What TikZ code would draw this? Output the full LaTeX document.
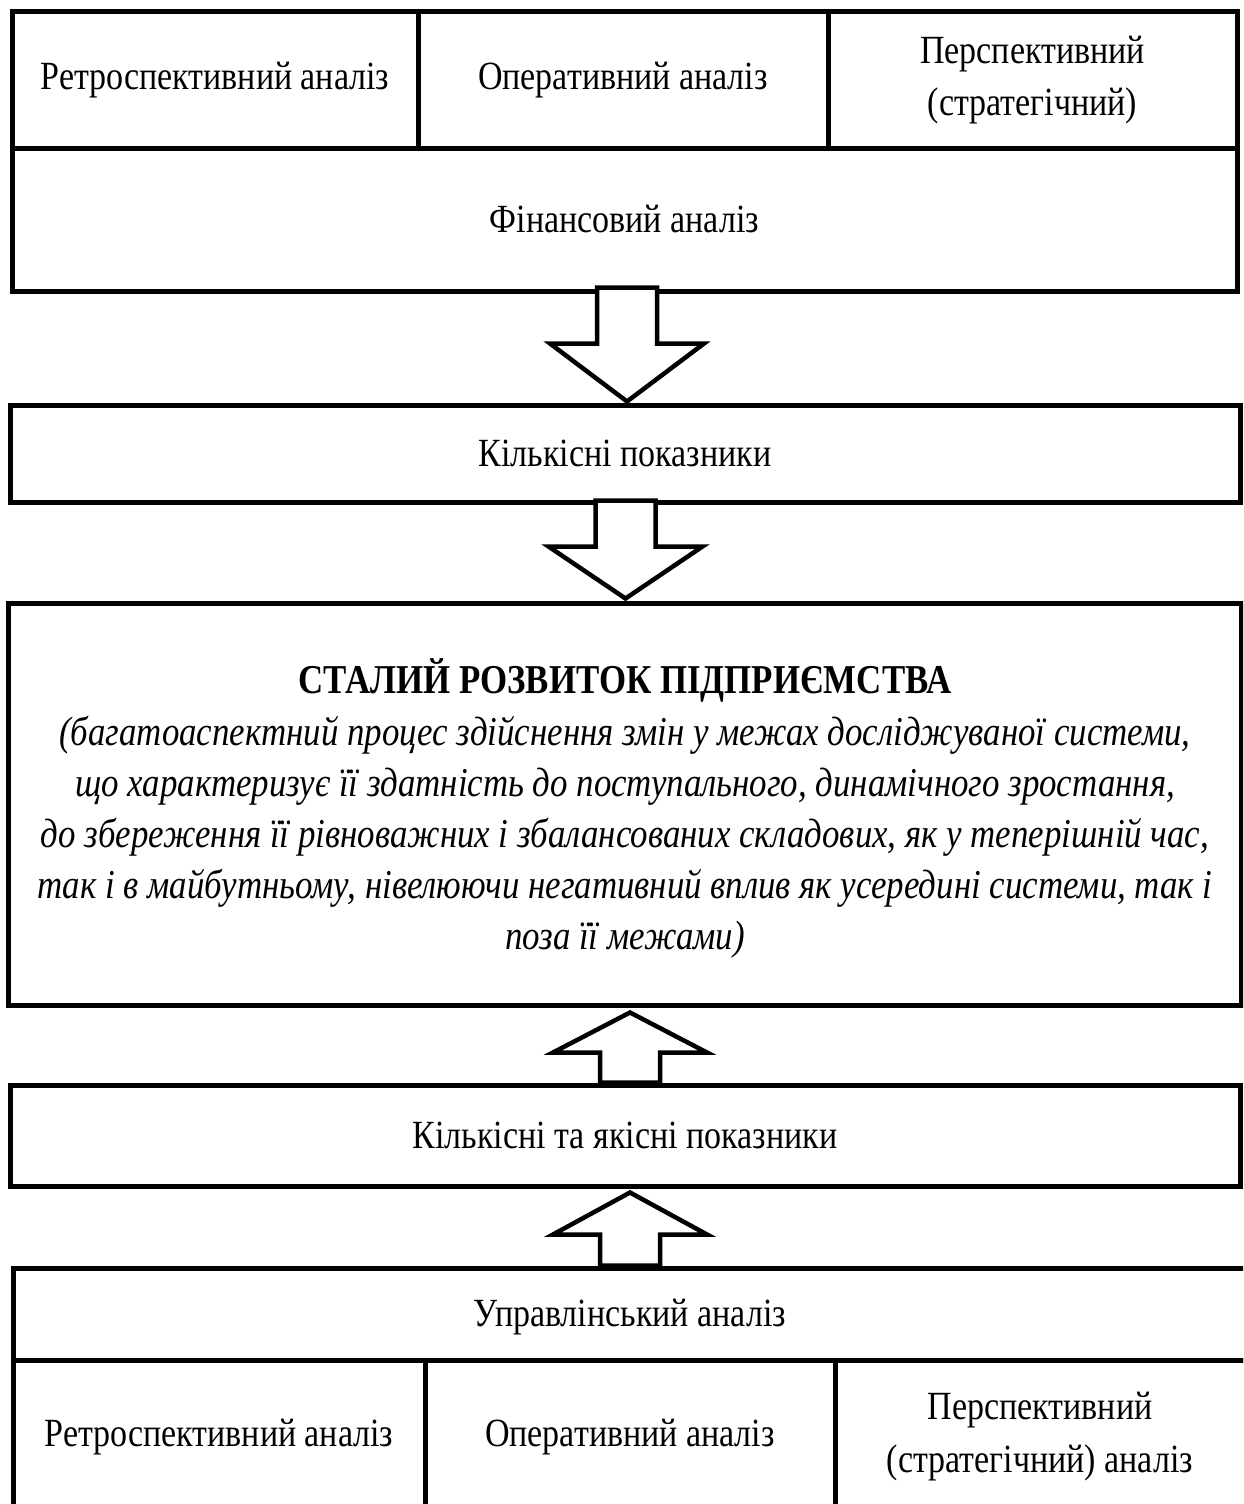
\documentclass[tikz,border=0pt]{standalone}
\usepackage{fontspec}
\setmainfont{Liberation Serif}[FakeStretch=0.85]
\newfontfamily\itfont{Liberation Serif Italic}[FakeStretch=0.85]
\newfontfamily\bffont{Liberation Serif Bold}[FakeStretch=0.85]
\usetikzlibrary{calc}
\tikzset{
  box/.style={draw, line width=5pt, inner sep=0pt, font=\fontsize{40}{52}\selectfont, align=center},
  lbl/.style={inner sep=0pt, font=\fontsize{40}{53}\selectfont, align=center},
  arrowline/.style={draw, line width=4.5pt, fill=white, line join=miter}
}
\newcommand\barrow[3]{%
  \path[arrowline] let \p1=(#1), \p2=(#2) in
    (\x2-30pt,\y1) -- (\x2+30pt,\y1) -- (\x2+30pt,\y2+#3) -- (\x2+77pt,\y2+#3)
    -- (\x2,\y2) -- (\x2-77pt,\y2+#3) -- (\x2-30pt,\y2+#3) -- cycle;}
\begin{document}
\begin{tikzpicture}[x=1pt,y=-1pt]
\useasboundingbox (0,0) rectangle (1243,1504);
\fill[white] (0,0) rectangle (1243,1504);
\begin{scope}
\clip (0,0) rectangle (1243,1504);
% top row
\node[box, minimum width=406pt, minimum height=136pt] (t1) at (215,80) {Ретроспективний аналіз};
\node[box, minimum width=410pt, minimum height=136pt] (t2) at (623,80) {Оперативний аналіз};
\node[box, minimum width=409pt, minimum height=136pt] (t3) at (1032.5,80) {Перспективний\\(стратегічний)};
\node[box, minimum width=1225pt, minimum height=143pt] (fin) at (624.5,219.5) {Фінансовий аналіз};
% quantitative
\node[box, minimum width=1230pt, minimum height=97pt] (kil) at (625,453.5) {Кількісні показники};
% main box
\node[box, minimum width=1233pt, minimum height=402pt] (main) at (624.5,804) {};
\node[lbl, font=\bffont\fontsize{41}{46}\selectfont] (title) at (625,680) {СТАЛИЙ РОЗВИТОК ПІДПРИЄМСТВА};
\node[lbl, font=\itfont\fontsize{41}{51}\selectfont] (desc) at (625,837) {(багатоаспектний процес здійснення змін у межах досліджуваної системи,\\
що характеризує її здатність до поступального, динамічного зростання,\\
до збереження її рівноважних і збалансованих складових, як у теперішній час,\\
так і в майбутньому, нівелюючи негативний вплив як усередині системи, так і\\
поза її межами)};
% quantitative and qualitative
\node[box, minimum width=1230pt, minimum height=101pt] (ky) at (625,1135.5) {Кількісні та якісні показники};
% management analysis
\node[box, minimum width=1250pt, minimum height=92pt] (upr) at (638,1314) {};
\node[lbl] (uprt) at (630,1317) {Управлінський аналіз};
\node[box, minimum width=412pt, minimum height=160pt] (b1) at (219,1440) {};
\node[box, minimum width=410pt, minimum height=160pt] (b2) at (630,1440) {};
\node[box, minimum width=430pt, minimum height=160pt] (b3) at (1050,1440) {};
\node[lbl] (b1t) at (219,1437) {Ретроспективний аналіз};
\node[lbl] (b2t) at (630,1437) {Оперативний аналіз};
\node[lbl] (b3t) at (1040,1437) {Перспективний\\(стратегічний) аналіз};
% arrows
\coordinate (a1s) at ($(fin.south)+(2.5,-6)$);
\coordinate (a1t) at ($(kil.north)+(2,-1)$);
\barrow{a1s}{a1t}{58pt}
\coordinate (a2s) at ($(kil.south)+(0,-4)$);
\coordinate (a2t) at ($(main.north)+(1,-2)$);
\barrow{a2s}{a2t}{52pt}
\coordinate (a3s) at ($(ky.north)+(5,0)$);
\coordinate (a3t) at ($(main.south)+(5.5,5)$);
\barrow{a3s}{a3t}{-40pt}
\coordinate (a4s) at ($(upr.north)+(-8,0)$);
\coordinate (a4t) at ($(ky.south)+(5,4)$);
\barrow{a4s}{a4t}{-42pt}
\end{scope}
\end{tikzpicture}
\end{document}
